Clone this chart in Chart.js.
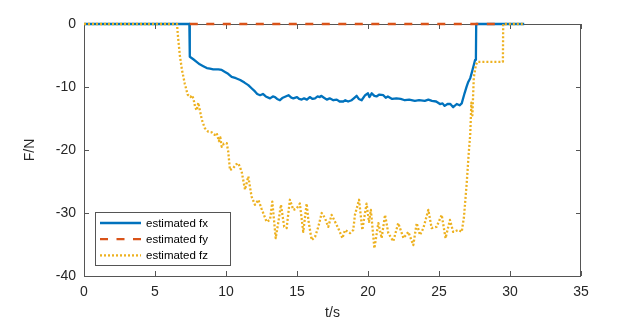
<!DOCTYPE html>
<html>
<head>
<meta charset="utf-8">
<script src="https://cdn.jsdelivr.net/npm/chart.js@4.4.1/dist/chart.umd.min.js"></script>
<style>
  html, body { margin: 0; padding: 0; background: #fff; }
</style>
</head>
<body>
<canvas id="forceChart" width="642" height="322"></canvas>
<script>
// estimated force components (t in s, F in N)
const fxTime = [
  0, 7.42, 7.45, 7.7, 7.93, 8.15, 8.4, 8.65, 8.87, 9.1,
  9.46, 9.7, 9.93, 10.15, 10.4, 10.7, 11.0, 11.3, 11.57, 11.8,
  12.04, 12.2, 12.4, 12.6, 12.8, 13.1, 13.3, 13.45, 13.6, 13.8,
  14.0, 14.2, 14.4, 14.6, 14.74, 15.0, 15.15, 15.33, 15.5, 15.7,
  15.9, 16.1, 16.27, 16.45, 16.6, 16.7, 16.9, 17.1, 17.3, 17.56,
  17.8, 18.0, 18.26, 18.4, 18.6, 18.85, 19.0, 19.2, 19.35, 19.55,
  19.8, 20.0, 20.1, 20.26, 20.45, 20.6, 20.8, 21.08, 21.25, 21.4,
  21.7, 22.0, 22.3, 22.6, 22.9, 23.3, 23.6, 24.0, 24.25, 24.5,
  24.8, 25.07, 25.25, 25.4, 25.6, 25.8, 26.0, 26.25, 26.45, 26.6,
  26.8, 26.95, 27.06, 27.2, 27.3, 27.45, 27.54, 27.6, 27.62, 31.0
];
const fxForce = [
  0, 0, -5.2, -5.6, -6.0, -6.4, -6.7, -7.0, -7.1, -7.2,
  -7.2, -7.3, -7.6, -7.9, -8.4, -8.6, -8.9, -9.3, -9.7, -10.2,
  -10.7, -11.1, -11.3, -11.1, -11.5, -11.8, -11.5, -11.6, -11.9, -12.1,
  -11.7, -11.5, -11.3, -11.7, -11.8, -11.6, -11.9, -12.0, -11.8, -12.0,
  -11.6, -11.9, -11.8, -11.5, -11.6, -11.4, -11.7, -12.0, -11.8, -12.1,
  -12.0, -12.3, -12.3, -12.1, -12.3, -12.1, -11.8, -11.4, -11.9, -12.1,
  -11.3, -11.0, -11.6, -11.0, -11.4, -11.5, -11.2, -11.3, -11.7, -11.5,
  -11.9, -11.8, -11.9, -12.1, -12.0, -12.2, -12.1, -12.2, -12.0, -12.2,
  -12.3, -12.7, -12.6, -13.0, -12.7, -12.7, -13.2, -12.7, -12.9, -12.6,
  -11.0, -9.9, -9.2, -8.6, -7.8, -6.5, -5.7, -5.2, 0, 0
];

const fyTime = [7.45, 29.5];
const fyForce = [0, 0];

const fzTime = [
  0, 6.55, 6.62, 6.75, 6.9, 7.1, 7.3, 7.5, 7.6, 7.7,
  7.82, 7.93, 8.05, 8.15, 8.3, 8.5, 8.75, 9.0, 9.2, 9.34,
  9.5, 9.6, 9.7, 9.85, 10.05, 10.16, 10.28, 10.5, 10.7, 10.87,
  11.1, 11.34, 11.57, 11.8, 12.04, 12.28, 12.5, 12.86, 13.1, 13.26,
  13.5, 13.69, 13.87, 14.1, 14.27, 14.5, 14.74, 14.98, 15.2, 15.44,
  15.68, 15.8, 16.03, 16.27, 16.5, 16.74, 16.97, 17.2, 17.44, 17.68,
  17.9, 18.2, 18.38, 18.6, 18.73, 18.96, 19.08, 19.37, 19.6, 19.9,
  20.07, 20.2, 20.45, 20.73, 20.96, 21.2, 21.43, 21.78, 22.13, 22.5,
  22.84, 23.19, 23.43, 23.66, 23.9, 24.25, 24.48, 24.83, 25.19, 25.46,
  25.77, 26.0, 26.36, 26.6, 26.76, 26.95, 27.1, 27.2, 27.28, 27.35,
  27.45, 27.6, 27.7, 29.5, 29.52, 30.9
];
const fzForce = [
  0, 0, -2.0, -5.0, -7.3, -9.5, -11.2, -11.6, -11.3, -11.8,
  -13.1, -13.7, -12.5, -13.6, -15.2, -16.5, -17.1, -17.2, -17.6, -17.3,
  -18.6, -18.0, -19.5, -19.0, -18.9, -20.3, -23.2, -22.9, -22.3, -22.1,
  -23.4, -26.3, -24.2, -27.4, -28.7, -27.9, -29.3, -31.4, -31.1, -28.2,
  -34.0, -31.4, -28.7, -32.2, -32.4, -27.9, -29.5, -29.3, -28.5, -33.0,
  -28.5, -31.1, -34.3, -33.8, -32.2, -30.0, -30.8, -32.2, -30.3, -31.4,
  -32.4, -34.0, -32.7, -33.0, -33.2, -32.7, -30.3, -27.9, -32.7, -28.5,
  -31.4, -29.5, -35.6, -31.6, -34.0, -30.3, -33.2, -34.5, -31.6, -34.0,
  -33.0, -35.1, -31.6, -33.5, -32.4, -29.5, -32.4, -32.2, -30.3, -34.0,
  -31.1, -33.0, -32.7, -33.0, -30.6, -25.3, -20.3, -17.5, -12.5, -14.5,
  -8.5, -6.5, -6.0, -6.0, 0, 0
];

const seriesNames = ['estimated fx', 'estimated fy', 'estimated fz'];

const AXIS_COLOR = '#262626';
const BOX_COLOR = '#555';
const BLUE = '#0072BD';
const ORANGE = '#D95319';
const YELLOW = '#EDB120';

const toPoints = (ts, vs) => ts.map((t, i) => ({ x: t, y: vs[i] }));

// MATLAB-like box with inward ticks on all four sides
const boxPlugin = {
  id: 'boxPlugin',
  beforeDatasetsDraw(chart) {
    const { ctx, chartArea: a, scales: { x, y } } = chart;
    const tick = 5;
    ctx.save();
    ctx.strokeStyle = BOX_COLOR;
    ctx.lineWidth = 1;
    ctx.beginPath();
    x.ticks.forEach(t => {
      const px = Math.round(x.getPixelForValue(t.value)) + 0.5;
      ctx.moveTo(px, a.bottom); ctx.lineTo(px, a.bottom - tick);
      ctx.moveTo(px, a.top); ctx.lineTo(px, a.top + tick);
    });
    y.ticks.forEach(t => {
      const py = Math.round(y.getPixelForValue(t.value)) + 0.5;
      ctx.moveTo(a.left, py); ctx.lineTo(a.left + tick, py);
      ctx.moveTo(a.right, py); ctx.lineTo(a.right - tick, py);
    });
    ctx.stroke();
    ctx.strokeRect(Math.round(a.left) + 0.5, Math.round(a.top) + 0.5,
                   Math.round(a.width) - 1, Math.round(a.height));
    ctx.restore();
  }
};

// legend box drawn inside the axes, bottom-left
const legendPlugin = {
  id: 'insideLegend',
  afterDatasetsDraw(chart) {
    const { ctx } = chart;
    const bx = 95.5, by = 212.5, bw = 135, bh = 53;
    ctx.save();
    ctx.fillStyle = '#fff';
    ctx.fillRect(bx, by, bw, bh);
    ctx.strokeStyle = BOX_COLOR;
    ctx.lineWidth = 1;
    ctx.strokeRect(bx, by, bw, bh);
    ctx.font = '11.5px "Liberation Sans", Arial, sans-serif';
    ctx.textBaseline = 'middle';
    ctx.fillStyle = '#000';
    chart.data.datasets.forEach((ds, i) => {
      const ry = 223 + i * 16.2;
      ctx.beginPath();
      ctx.strokeStyle = ds.borderColor;
      ctx.lineWidth = ds.borderWidth;
      ctx.setLineDash(ds.borderDash || []);
      ctx.moveTo(100, ry);
      ctx.lineTo(141, ry);
      ctx.stroke();
      ctx.setLineDash([]);
      ctx.fillText(ds.label, 146, ry + 0.5);
    });
    ctx.restore();
  }
};

Chart.defaults.font.family = '"Liberation Sans", Arial, Helvetica, sans-serif';
Chart.defaults.color = AXIS_COLOR;

new Chart(document.getElementById('forceChart').getContext('2d'), {
  type: 'line',
  data: {
    datasets: [
      { label: seriesNames[0], data: toPoints(fxTime, fxForce), borderColor: BLUE,
        borderWidth: 2.3, order: 2 },
      { label: seriesNames[1], data: toPoints(fyTime, fyForce), borderColor: ORANGE,
        borderWidth: 2.3, borderDash: [8, 8.5], order: 1 },
      { label: seriesNames[2], data: toPoints(fzTime, fzForce), borderColor: YELLOW,
        borderWidth: 2.3, borderDash: [2, 2], order: 0 }
    ]
  },
  options: {
    responsive: false,
    animation: false,
    layout: { padding: { left: 0, right: 61, top: 24, bottom: 0 } },
    elements: {
      point: { radius: 0 },
      line: { tension: 0, borderCapStyle: 'butt', borderJoinStyle: 'round' }
    },
    datasets: { line: { clip: false } },
    plugins: {
      legend: { display: false },
      tooltip: { enabled: false }
    },
    scales: {
      x: {
        type: 'linear',
        min: 0, max: 35,
        grid: { display: false, drawTicks: false },
        border: { display: false },
        ticks: { stepSize: 5, padding: 8, font: { size: 14 }, color: AXIS_COLOR },
        title: { display: true, text: 't/s', font: { size: 14 }, color: AXIS_COLOR,
                 padding: { top: 0, bottom: 0 } },
        afterFit: s => { s.height = 46; }
      },
      y: {
        type: 'linear',
        min: -40, max: 0,
        grid: { display: false, drawTicks: false },
        border: { display: false },
        ticks: { stepSize: 10, padding: 8, font: { size: 14 }, color: AXIS_COLOR },
        title: { display: true, text: 'F/N', font: { size: 14 }, color: AXIS_COLOR,
                 padding: { top: 22, bottom: 0 } },
        afterFit: s => { s.width = 84; }
      }
    }
  },
  plugins: [boxPlugin, legendPlugin]
});
</script>
</body>
</html>
